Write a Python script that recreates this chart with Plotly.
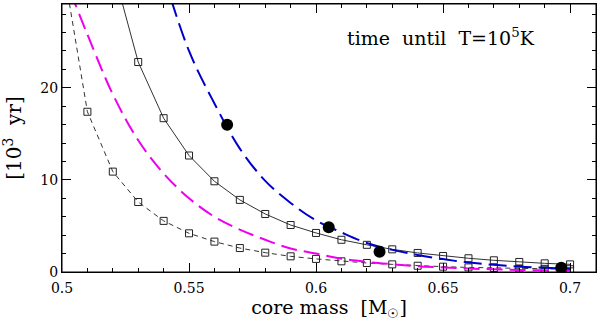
import plotly.graph_objects as go

# core mass grid (M_sun)
masa = [0.50, 0.51, 0.52, 0.53, 0.54, 0.55, 0.56, 0.57, 0.58, 0.59, 0.60,
        0.61, 0.62, 0.63, 0.64, 0.65, 0.66, 0.67, 0.68, 0.69, 0.70]

# time until T=1e5 K  [10^3 yr]
t_discontinua = [34.0, 17.4, 10.9, 7.6, 5.55, 4.2, 3.3, 2.6, 2.1, 1.7, 1.42,
                 1.16, 0.98, 0.83, 0.68, 0.58, 0.5, 0.43, 0.38, 0.34, 0.3]
masa_solida = masa[2:]
t_solida = [33.0, 22.8, 16.7, 12.65, 9.85, 7.83, 6.3, 5.1, 4.24, 3.5,
            2.95, 2.46, 2.07, 1.74, 1.49, 1.27, 1.09, 0.94, 0.83]
masa_azul = masa[4:]
t_azul = [32.2, 24.0, 18.3, 13.4, 9.9, 7.5, 5.6, 4.3, 3.15, 2.4, 1.85,
          1.4, 1.02, 0.78, 0.58, 0.45, 0.35]
t_magenta = [32.7, 25.8, 19.3, 14.3, 10.7, 8.0, 6.0, 4.6, 3.5, 2.55, 2.0,
             1.45, 1.1, 0.85, 0.63, 0.5, 0.38, 0.29, 0.22, 0.18, 0.15]

# puntos marcados
masa_puntos = [0.565, 0.605, 0.625, 0.6965]
t_puntos = [16.0, 4.86, 2.2, 0.45]

serif = "DejaVu Serif"

fig = go.Figure()

fig.add_trace(go.Scatter(
    x=masa, y=t_discontinua, mode="lines+markers",
    line=dict(color="#333333", width=1, dash="5px,4px"),
    marker=dict(symbol="square-open", size=7, color="#222222", line=dict(width=1)),
))
fig.add_trace(go.Scatter(
    x=masa, y=t_magenta, mode="lines", line_shape="spline",
    line=dict(color="#ee00ee", width=2, dash="16px,7px"),
))
fig.add_trace(go.Scatter(
    x=masa_solida, y=t_solida, mode="lines+markers",
    line=dict(color="#333333", width=1),
    marker=dict(symbol="square-open", size=7, color="#222222", line=dict(width=1)),
))
fig.add_trace(go.Scatter(
    x=masa_azul, y=t_azul, mode="lines", line_shape="spline",
    line=dict(color="#0000cc", width=2, dash="18px,7px"),
))
fig.add_trace(go.Scatter(
    x=masa_puntos, y=t_puntos, mode="markers",
    marker=dict(symbol="circle", size=12, color="black"),
))

eje = dict(
    showgrid=False, zeroline=False, showline=True, linecolor="black", linewidth=1,
    mirror="allticks", ticks="inside", tickcolor="black", ticklen=9,
    tickfont=dict(family=serif, size=14, color="black"), automargin=False,
)

fig.update_xaxes(
    **eje, range=[0.5, 0.7102], tickvals=[0.5, 0.55, 0.6, 0.65, 0.7],
    ticktext=["0.5", "0.55", "0.6", "0.65", "0.7"], ticklabelstandoff=3,
    minor=dict(dtick=0.01, tick0=0.5, ticks="inside", ticklen=4, tickcolor="black"),
    title=dict(text="core mass  [M<sub>☉</sub>]", font=dict(family=serif, size=19, color="black"), standoff=5),
)
fig.update_yaxes(
    **eje, range=[0, 29.1], tickvals=[0, 10, 20],
    minor=dict(dtick=2, tick0=0, ticks="inside", ticklen=4, tickcolor="black"),
    title=dict(text="[10<sup>3</sup>  yr]", font=dict(family=serif, size=20, color="black"), standoff=14),
)

fig.add_annotation(
    x=(441 - 62) / 534, y=(272 - 37) / 267.5, xref="paper", yref="paper",
    xanchor="center", yanchor="middle",
    text="time  until  T=10<sup>5</sup>K", showarrow=False,
    font=dict(family=serif, size=19, color="black"),
)

# marco completo
fig.add_shape(type="rect", xref="paper", yref="paper", x0=0, y0=0, x1=1, y1=1,
              line=dict(color="black", width=1))

fig.update_layout(
    width=600, height=326, showlegend=False,
    margin=dict(l=62, r=4, t=4, b=54),
    paper_bgcolor="white", plot_bgcolor="white",
)

fig.write_html("out.html", config={"displayModeBar": False},
               post_script="document.body.style.margin='0';document.body.style.overflow='hidden';")
